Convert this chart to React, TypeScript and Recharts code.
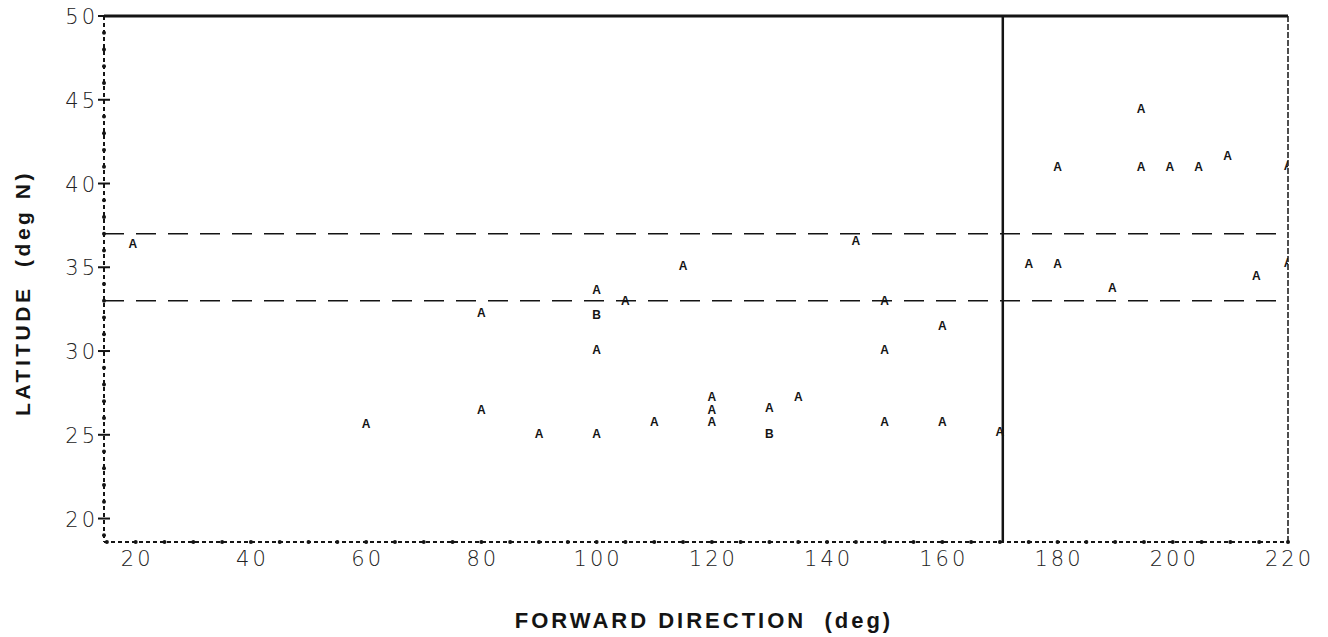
import React from "react";
import {
  ScatterChart,
  Scatter,
  XAxis,
  YAxis,
  ReferenceLine,
} from "recharts";

// Forward direction (deg) of each plotted symbol
const directions: number[] = [
  19.5, 60, 80, 80, 90, 100, 100, 100, 100, 105, 110, 115, 120, 120, 120, 130,
  130, 135, 145, 150, 150, 150, 160, 160, 170, 175, 180, 180, 189.5, 194.5,
  194.5, 199.5, 204.5, 209.5, 214.5, 220, 220,
];
// Latitude (deg N) of each plotted symbol
const latitudes: number[] = [
  36.4, 25.7, 32.3, 26.5, 25.1, 33.7, 32.2, 30.1, 25.1, 33.0, 25.8, 35.1, 27.3,
  26.5, 25.8, 26.6, 25.1, 27.3, 36.6, 33.0, 30.1, 25.8, 31.5, 25.8, 25.2, 35.2,
  41.0, 35.2, 33.8, 44.5, 41.0, 41.0, 41.0, 41.7, 34.5, 41.1, 35.3,
];
// Plot symbol (A = one observation, B = two)
const symbols: string[] = [
  "A", "A", "A", "A", "A", "A", "B", "A", "A", "A", "A", "A", "A", "A", "A",
  "A", "B", "A", "A", "A", "A", "A", "A", "A", "A", "A", "A", "A", "A", "A",
  "A", "A", "A", "A", "A", "A", "A",
];

const xTicks: number[] = [
  15, 20, 25, 30, 35, 40, 45, 50, 55, 60, 65, 70, 75, 80, 85, 90, 95, 100, 105,
  110, 115, 120, 125, 130, 135, 140, 145, 150, 155, 160, 165, 170, 175, 180,
  185, 190, 195, 200, 205, 210, 215, 220,
];
const xLabelTicks: number[] = [20, 40, 60, 80, 100, 120, 140, 160, 180, 200, 220];
const yTicks: number[] = [
  19, 20, 21, 22, 23, 24, 25, 26, 27, 28, 29, 30, 31, 32, 33, 34, 35, 36, 37,
  38, 39, 40, 41, 42, 43, 44, 45, 46, 47, 48, 49, 50,
];
const yLabelTicks: number[] = [20, 25, 30, 35, 40, 45, 50];

const bandLatitudes: number[] = [37, 33];
const dividerDirection = 170.5;

const xTitle = "FORWARD DIRECTION  (deg)";
const yTitle = "LATITUDE  (deg N)";

const data = directions.map((d, i) => ({
  dir: d,
  lat: latitudes[i],
  sym: symbols[i],
}));

const INK = "#141414";
const tickFont = "'DejaVu Sans', sans-serif";
const titleFont = "'Liberation Sans', Arial, sans-serif";

const XTick = (props: any) => {
  const { x, y, payload } = props;
  const v = payload.value;
  const major = xLabelTicks.includes(v);
  return (
    <g>
      <circle cx={x} cy={y} r={2} fill={INK} />
      {major && (
        <text
          x={x + 1.5}
          y={y + 24}
          textAnchor="middle"
          fontFamily={tickFont}
          fontSize={21}
          fontWeight={300}
          letterSpacing={3}
          fill="#222"
        >
          {v}
        </text>
      )}
    </g>
  );
};

const YTick = (props: any) => {
  const { x, y, payload } = props;
  const v = payload.value;
  const major = yLabelTicks.includes(v);
  return (
    <g>
      {major ? (
        <line x1={x - 6} x2={x + 6} y1={y} y2={y} stroke={INK} strokeWidth={2} />
      ) : (
        <circle cx={x} cy={y} r={2} fill={INK} />
      )}
      {major && (
        <text
          x={x - 6}
          y={y}
          dy={8}
          textAnchor="end"
          fontFamily={tickFont}
          fontSize={21}
          fontWeight={300}
          letterSpacing={3}
          fill="#222"
        >
          {v}
        </text>
      )}
    </g>
  );
};

const Symbol = (props: any) => {
  const { cx, cy, payload } = props;
  return (
    <text
      x={cx}
      y={cy}
      dy={4.5}
      textAnchor="middle"
      fontFamily={titleFont}
      fontWeight="bold"
      fontSize={12}
      fill={INK}
    >
      {payload.sym}
    </text>
  );
};

const XTitle = () => (
  <text
    x={704}
    y={628}
    textAnchor="middle"
    fontFamily={titleFont}
    fontWeight="bold"
    fontSize={22}
    letterSpacing={3}
    fill={INK}
    style={{ whiteSpace: "pre" }}
  >
    {xTitle}
  </text>
);

const YTitle = () => (
  <text
    x={30}
    y={293}
    textAnchor="middle"
    transform="rotate(-90 30 293)"
    fontFamily={titleFont}
    fontWeight="bold"
    fontSize={21}
    letterSpacing={3.5}
    fill={INK}
    style={{ whiteSpace: "pre" }}
  >
    {yTitle}
  </text>
);

export default function App() {
  return (
    <div style={{ position: "absolute", left: 0, top: 0, background: "#fff" }}>
      <ScatterChart
        width={1328}
        height={637}
        margin={{ top: 16, right: 40, bottom: 35, left: 0 }}
      >
        <XAxis
          type="number"
          dataKey="dir"
          domain={[14.5, 220]}
          ticks={xTicks}
          interval={0}
          allowDataOverflow
          height={60}
          tickSize={0}
          tickMargin={0}
          tickLine={false}
          axisLine={{ stroke: INK, strokeWidth: 2, strokeDasharray: "4 3" }}
          tick={<XTick />}
          label={{ content: () => <XTitle /> }}
        />
        <YAxis
          type="number"
          dataKey="lat"
          domain={[18.6, 50]}
          ticks={yTicks}
          interval={0}
          allowDataOverflow
          width={104}
          tickSize={0}
          tickMargin={0}
          tickLine={false}
          axisLine={{ stroke: INK, strokeWidth: 2, strokeDasharray: "4 3" }}
          tick={<YTick />}
          label={{ content: () => <YTitle /> }}
        />
        <ReferenceLine y={50} stroke={INK} strokeWidth={3} />
        <ReferenceLine x={220} stroke={INK} strokeWidth={1.5} strokeDasharray="6 2" />
        <ReferenceLine x={dividerDirection} stroke={INK} strokeWidth={2.5} />
        {bandLatitudes.map((b) => (
          <ReferenceLine
            key={b}
            y={b}
            stroke={INK}
            strokeWidth={1.5}
            strokeDasharray="20 12"
          />
        ))}
        <Scatter data={data} shape={<Symbol />} isAnimationActive={false} />
      </ScatterChart>
    </div>
  );
}
